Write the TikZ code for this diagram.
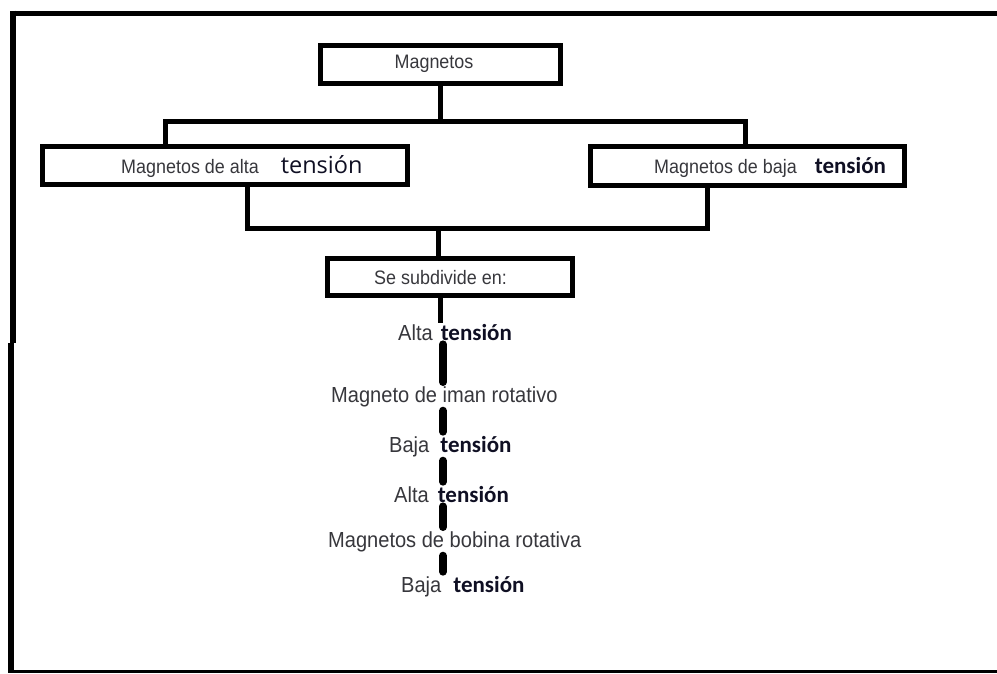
\documentclass[tikz,border=0pt]{standalone}
\usepackage{fontspec}
\setmainfont{Liberation Sans}
\newfontfamily\narrowsans[FakeStretch=0.92]{Liberation Sans}
\newfontfamily\osans{Open Sans}
\newfontfamily\carl{Carlito}
\usetikzlibrary{calc}
\definecolor{txtgray}{RGB}{55,55,60}
\definecolor{tnavy}{RGB}{15,15,35}
\newcommand{\tbold}{{\carl\bfseries\fontsize{23}{27}\selectfont\color{tnavy}tensión}}
\newcommand{\treg}{{\osans\fontsize{23.5}{27}\selectfont\color{tnavy}tensión}}
\begin{document}
\begin{tikzpicture}[x=1pt,y=-1pt,
  boxshape/.style={draw=black, line width=5pt, inner sep=0pt},
  conn/.style={draw=black, line width=5pt},
  listline/.style={draw=black, line width=8pt, line cap=round, shorten <=3pt, shorten >=3pt},
  frameline/.style={draw=black},
  boxtxt/.style={inner sep=1pt, font=\narrowsans\fontsize{19.5}{22}\selectfont, text=txtgray},
  listtxt/.style={inner sep=1pt, font=\narrowsans\fontsize{21.8}{24}\selectfont, text=txtgray, anchor=base west}]
\useasboundingbox (0,0) rectangle (997,673);
% outer frame
\draw[frameline, line width=5pt] (10.5,13) -- (997,13);
\draw[frameline, line width=6pt] (13,10.5) -- (13,343);
\draw[frameline, line width=6pt] (11,343) -- (11,672);
\draw[frameline, line width=3pt] (8,671) -- (997,671);
% boxes
\node[boxshape, minimum width=240, minimum height=38] (mag) at (440.5,64.5) {};
\node[boxtxt] (magt) at (434,64) {Magnetos};
\node[boxshape, minimum width=365, minimum height=38] (alta) at (225,165.5) {};
\node[boxtxt, anchor=base west] (altat) at (120,173) {Magnetos de alta\hspace{22pt}\treg};
\node[boxshape, minimum width=314, minimum height=39] (baja) at (747.5,166) {};
\node[boxtxt, anchor=base west] (bajat) at (653,173) {Magnetos de baja\hspace{18pt}\tbold};
\node[boxshape, minimum width=245, minimum height=37] (sub) at (450,277) {};
\node[boxtxt, anchor=base west] (subt) at (373,284) {Se subdivide en:};
% list
\node[listtxt] (alta1) at (397,340) {Alta\hspace{8pt}\tbold};
\node[listtxt] (iman) at (330,402) {Magneto de iman rotativo};
\node[listtxt] (baja1) at (388,452) {Baja\hspace{11pt}\tbold};
\node[listtxt] (alta2) at (393,502) {Alta\hspace{9pt}\tbold};
\node[listtxt] (bobina) at (327,547) {Magnetos de bobina rotativa};
\node[listtxt] (baja2) at (400,592) {Baja\hspace{12pt}\tbold};
% connector coordinates
\coordinate (j1) at (440,123.5);
\coordinate (bl) at (165,121);
\coordinate (br) at (745,121);
\coordinate (cl) at (247,228);
\coordinate (cr) at (707,228);
\coordinate (cm) at (438,228);
\coordinate (sx) at (440,0);
\coordinate (lx) at (443,0);
% connectors
\draw[conn] (mag.south -| j1) -- (j1);
\draw[conn] (alta.north -| bl) -- (bl) -- (br) -- (baja.north -| br);
\draw[conn] (alta.south -| cl) -- (cl) -- (cr) -- (baja.south -| cr);
\draw[conn] (cm) -- (sub.north -| cm);
\draw[conn] (sub.south -| sx) -- (alta1.north -| sx);
\draw[listline] (alta1.south -| lx) -- (iman.north -| lx);
\draw[listline] (iman.south -| lx) -- (baja1.north -| lx);
\draw[listline] (baja1.south -| lx) -- (alta2.north -| lx);
\draw[listline] (alta2.south -| lx) -- (bobina.north -| lx);
\draw[listline] (bobina.south -| lx) -- (baja2.north -| lx);
\end{tikzpicture}
\end{document}
